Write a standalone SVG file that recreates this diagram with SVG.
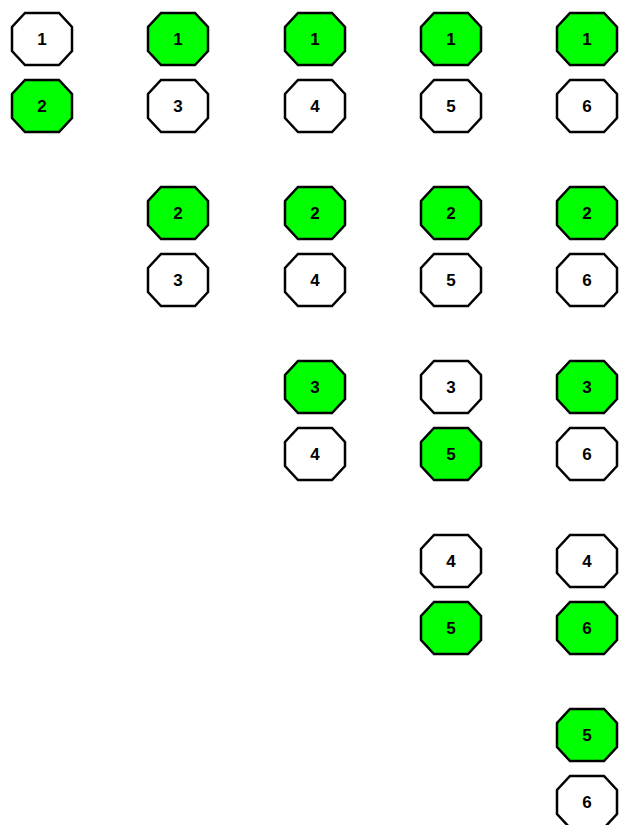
<svg xmlns="http://www.w3.org/2000/svg" width="619" height="825" viewBox="0 0 619 825">
<style>
.o{stroke:#000;stroke-width:2.5;}
.w{fill:#fff;}
.g{fill:#00ff00;}
text{font-family:"Liberation Sans",Arial,sans-serif;font-weight:bold;font-size:17px;text-anchor:middle;dominant-baseline:central;fill:#000;}
</style>
<defs>
<polygon id="oct" points="-17,-26 17,-26 30,-12 30,12 17,26 -17,26 -30,12 -30,-12"/>
</defs>
<rect width="619" height="825" fill="#fff"/>
<g id="connectors"/>
<g id="c1">
<g id="c1n1" transform="translate(42,39)"><use href="#oct" class="o w"/><text>1</text></g>
<g id="c1n2" transform="translate(42,106)"><use href="#oct" class="o g"/><text>2</text></g>
</g>
<g id="c2">
<g id="c2a1" transform="translate(178,39)"><use href="#oct" class="o g"/><text>1</text></g>
<g id="c2a2" transform="translate(178,106)"><use href="#oct" class="o w"/><text>3</text></g>
<g id="c2b1" transform="translate(178,213)"><use href="#oct" class="o g"/><text>2</text></g>
<g id="c2b2" transform="translate(178,280)"><use href="#oct" class="o w"/><text>3</text></g>
</g>
<g id="c3">
<g id="c3a1" transform="translate(315,39)"><use href="#oct" class="o g"/><text>1</text></g>
<g id="c3a2" transform="translate(315,106)"><use href="#oct" class="o w"/><text>4</text></g>
<g id="c3b1" transform="translate(315,213)"><use href="#oct" class="o g"/><text>2</text></g>
<g id="c3b2" transform="translate(315,280)"><use href="#oct" class="o w"/><text>4</text></g>
<g id="c3c1" transform="translate(315,387)"><use href="#oct" class="o g"/><text>3</text></g>
<g id="c3c2" transform="translate(315,454)"><use href="#oct" class="o w"/><text>4</text></g>
</g>
<g id="c4">
<g id="c4a1" transform="translate(451,39)"><use href="#oct" class="o g"/><text>1</text></g>
<g id="c4a2" transform="translate(451,106)"><use href="#oct" class="o w"/><text>5</text></g>
<g id="c4b1" transform="translate(451,213)"><use href="#oct" class="o g"/><text>2</text></g>
<g id="c4b2" transform="translate(451,280)"><use href="#oct" class="o w"/><text>5</text></g>
<g id="c4c1" transform="translate(451,387)"><use href="#oct" class="o w"/><text>3</text></g>
<g id="c4c2" transform="translate(451,454)"><use href="#oct" class="o g"/><text>5</text></g>
<g id="c4d1" transform="translate(451,561)"><use href="#oct" class="o w"/><text>4</text></g>
<g id="c4d2" transform="translate(451,628)"><use href="#oct" class="o g"/><text>5</text></g>
</g>
<g id="c5">
<g id="c5a1" transform="translate(587,39)"><use href="#oct" class="o g"/><text>1</text></g>
<g id="c5a2" transform="translate(587,106)"><use href="#oct" class="o w"/><text>6</text></g>
<g id="c5b1" transform="translate(587,213)"><use href="#oct" class="o g"/><text>2</text></g>
<g id="c5b2" transform="translate(587,280)"><use href="#oct" class="o w"/><text>6</text></g>
<g id="c5c1" transform="translate(587,387)"><use href="#oct" class="o g"/><text>3</text></g>
<g id="c5c2" transform="translate(587,454)"><use href="#oct" class="o w"/><text>6</text></g>
<g id="c5d1" transform="translate(587,561)"><use href="#oct" class="o w"/><text>4</text></g>
<g id="c5d2" transform="translate(587,628)"><use href="#oct" class="o g"/><text>6</text></g>
<g id="c5e1" transform="translate(587,735)"><use href="#oct" class="o g"/><text>5</text></g>
<g id="c5e2" transform="translate(587,802)"><use href="#oct" class="o w"/><text>6</text></g>
</g>
</svg>
